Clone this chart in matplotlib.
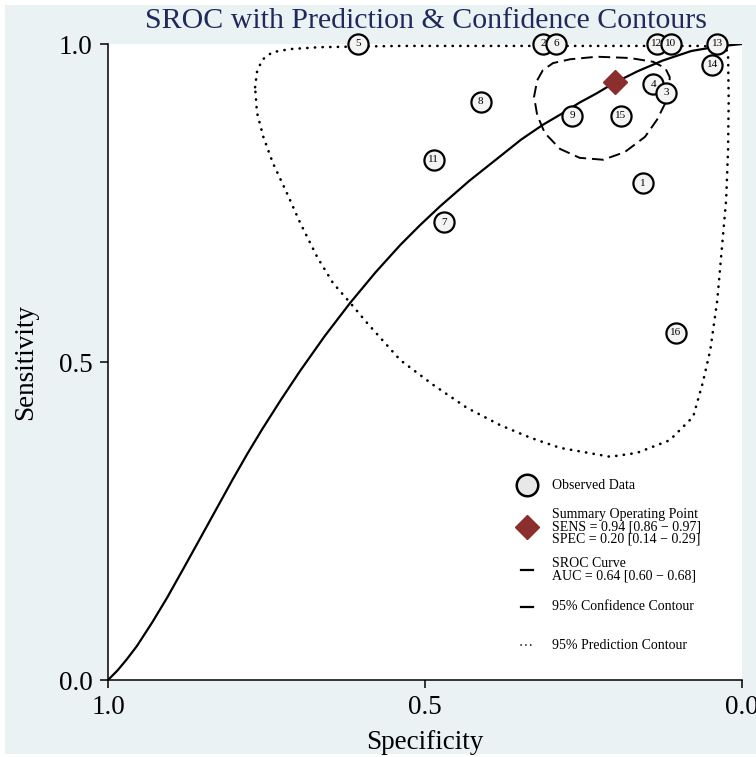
import matplotlib
matplotlib.use("Agg")
import matplotlib.pyplot as plt
from matplotlib.patches import Rectangle

plt.rcParams["font.family"] = ["Liberation Serif", "DejaVu Serif"]

# estudos individuais: especificidade, sensibilidade, rótulo
estudo_rotulo = ["5", "2", "6", "12", "10", "13", "14", "4", "3", "8", "9", "15", "11", "1", "7", "16"]
estudo_spec = [0.606, 0.314, 0.293, 0.134, 0.112, 0.039, 0.047, 0.140, 0.120, 0.412, 0.268, 0.191, 0.486, 0.156, 0.470, 0.104]
estudo_sens = [1.000, 1.000, 1.000, 1.000, 1.000, 1.000, 0.967, 0.937, 0.923, 0.909, 0.887, 0.887, 0.818, 0.781, 0.720, 0.546]

# ponto operacional resumo
resumo_spec = 0.20
resumo_sens = 0.94

# curva SROC
sroc_spec = [1.000, 0.985, 0.970, 0.954, 0.930, 0.907, 0.880, 0.855, 0.829, 0.803, 0.780,
             0.757, 0.727, 0.697, 0.658, 0.618, 0.578, 0.539, 0.508, 0.476, 0.430,
             0.382, 0.348, 0.314, 0.285, 0.256, 0.230, 0.203, 0.165, 0.125, 0.080,
             0.039, 0.000]
sroc_sens = [0.000, 0.015, 0.033, 0.054, 0.091, 0.129, 0.177, 0.222, 0.269, 0.316, 0.356,
             0.394, 0.441, 0.486, 0.541, 0.593, 0.641, 0.684, 0.715, 0.745, 0.785,
             0.823, 0.850, 0.873, 0.890, 0.908, 0.922, 0.938, 0.957, 0.974, 0.989,
             0.996, 1.000]

# contorno de confiança 95%
conf_spec = [0.323, 0.314, 0.298, 0.271, 0.229, 0.177, 0.140, 0.121, 0.114, 0.115, 0.121,
             0.134, 0.153, 0.185, 0.219, 0.256, 0.287, 0.311, 0.323, 0.328, 0.323]
conf_sens = [0.943, 0.959, 0.970, 0.976, 0.980, 0.978, 0.972, 0.962, 0.948, 0.928, 0.907,
             0.881, 0.854, 0.830, 0.818, 0.821, 0.835, 0.860, 0.888, 0.917, 0.943]

# contorno de predição 95%
pred_spec = [0.768, 0.765, 0.757, 0.741, 0.713, 0.666, 0.539, 0.382, 0.224, 0.066, 0.028,
             0.022, 0.021, 0.022, 0.025, 0.032, 0.039, 0.050, 0.062, 0.077, 0.114, 0.166,
             0.208, 0.287, 0.334, 0.382, 0.434, 0.487, 0.539, 0.591, 0.618, 0.645, 0.670,
             0.697, 0.718, 0.740, 0.755, 0.765, 0.768]
pred_sens = [0.932, 0.956, 0.975, 0.987, 0.992, 0.995, 0.997, 0.997, 0.997, 0.997, 0.995,
             0.987, 0.912, 0.833, 0.755, 0.676, 0.597, 0.519, 0.467, 0.414, 0.377, 0.357,
             0.351, 0.365, 0.381, 0.401, 0.428, 0.464, 0.503, 0.561, 0.593, 0.624, 0.665,
             0.719, 0.766, 0.813, 0.854, 0.892, 0.932]

legenda_textos = [
    "Observed Data",
    "Summary Operating Point\nSENS = 0.94 [0.86 \u2212 0.97]\nSPEC = 0.20 [0.14 \u2212 0.29]",
    "SROC Curve\nAUC = 0.64 [0.60 \u2212 0.68]",
    "95% Confidence Contour",
    "95% Prediction Contour",
]

FUNDO = "#EAF2F4"
VINHO = "#8B2E2E"
TITULO = "#1F2A5A"
PONTILHADO = (0, (0.1, 2.8))

fig = plt.figure(figsize=(7.56, 7.57), dpi=100, facecolor="white")
fig.patches.append(Rectangle((5 / 756, 3 / 757), 2, 1 - 8 / 757, transform=fig.transFigure,
                             facecolor=FUNDO, edgecolor="none", zorder=-10))
ax = fig.add_axes([108 / 756, 77 / 757, 634 / 756, 636 / 757])
ax.set_facecolor("white")

ax.plot(pred_spec, pred_sens, color="black", lw=1.9, linestyle=PONTILHADO,
        dash_capstyle="round", zorder=2)
ax.plot(conf_spec, conf_sens, color="black", lw=1.4, linestyle=(0, (6, 3)), zorder=2)
ax.plot(sroc_spec, sroc_sens, color="black", lw=1.6, zorder=3)

for rot, sp, se in zip(estudo_rotulo, estudo_spec, estudo_sens):
    ax.plot(sp, se, "o", ms=14.5, mfc="#F4F4F4", mec="black", mew=1.6, zorder=4, clip_on=False)
    ax.text(sp, se, rot, ha="center", va="center", fontsize=8, zorder=5, clip_on=False)

ax.plot(resumo_spec, resumo_sens, "D", ms=12, color=VINHO, zorder=6)

# legenda desenhada à mão
lx, tx = 0.661, 0.700
ys = [0.3066, 0.2406, 0.173, 0.1148, 0.055]
ax.plot(lx, ys[0], "o", ms=15.5, mfc="#E8E8E8", mec="black", mew=1.8, transform=ax.transAxes)
ax.plot(lx, ys[1], "D", ms=12, color=VINHO, transform=ax.transAxes)
ax.plot([lx - 0.009, lx + 0.009], [ys[2]] * 2, color="black", lw=1.6, transform=ax.transAxes)
ax.plot([lx - 0.009, lx + 0.009], [ys[3]] * 2, color="black", lw=1.6, transform=ax.transAxes)
ax.plot([lx - 0.01, lx + 0.01], [ys[4]] * 2, color="black", lw=1.2,
        linestyle=PONTILHADO, dash_capstyle="round", transform=ax.transAxes)
for y, t in zip(ys, legenda_textos):
    ax.text(tx, y, t, transform=ax.transAxes, ha="left", va="center",
            fontsize=10, linespacing=0.95)

ax.set_xlim(1, 0)
ax.set_ylim(0, 1)
ax.set_xticks([1.0, 0.5, 0.0], ["1.0", "0.5", "0.0"])
ax.set_yticks([0.0, 0.5, 1.0], ["0.0", "0.5", "1.0"])
ax.tick_params(direction="out", length=6, width=1.1, labelsize=19.5, pad=5)
for lado in ("top", "right"):
    ax.spines[lado].set_visible(False)
for lado in ("left", "bottom"):
    ax.spines[lado].set_linewidth(1.1)

ax.set_xlabel("Specificity", fontsize=19.5, labelpad=7)
ax.set_ylabel("Sensitivity", fontsize=19.5, labelpad=15)
fig.text(426 / 756, 1 - 21 / 757, "SROC with Prediction & Confidence Contours",
         ha="center", va="center", fontsize=21.5, color=TITULO)

fig.savefig("out.png", dpi=100, facecolor=fig.get_facecolor())
